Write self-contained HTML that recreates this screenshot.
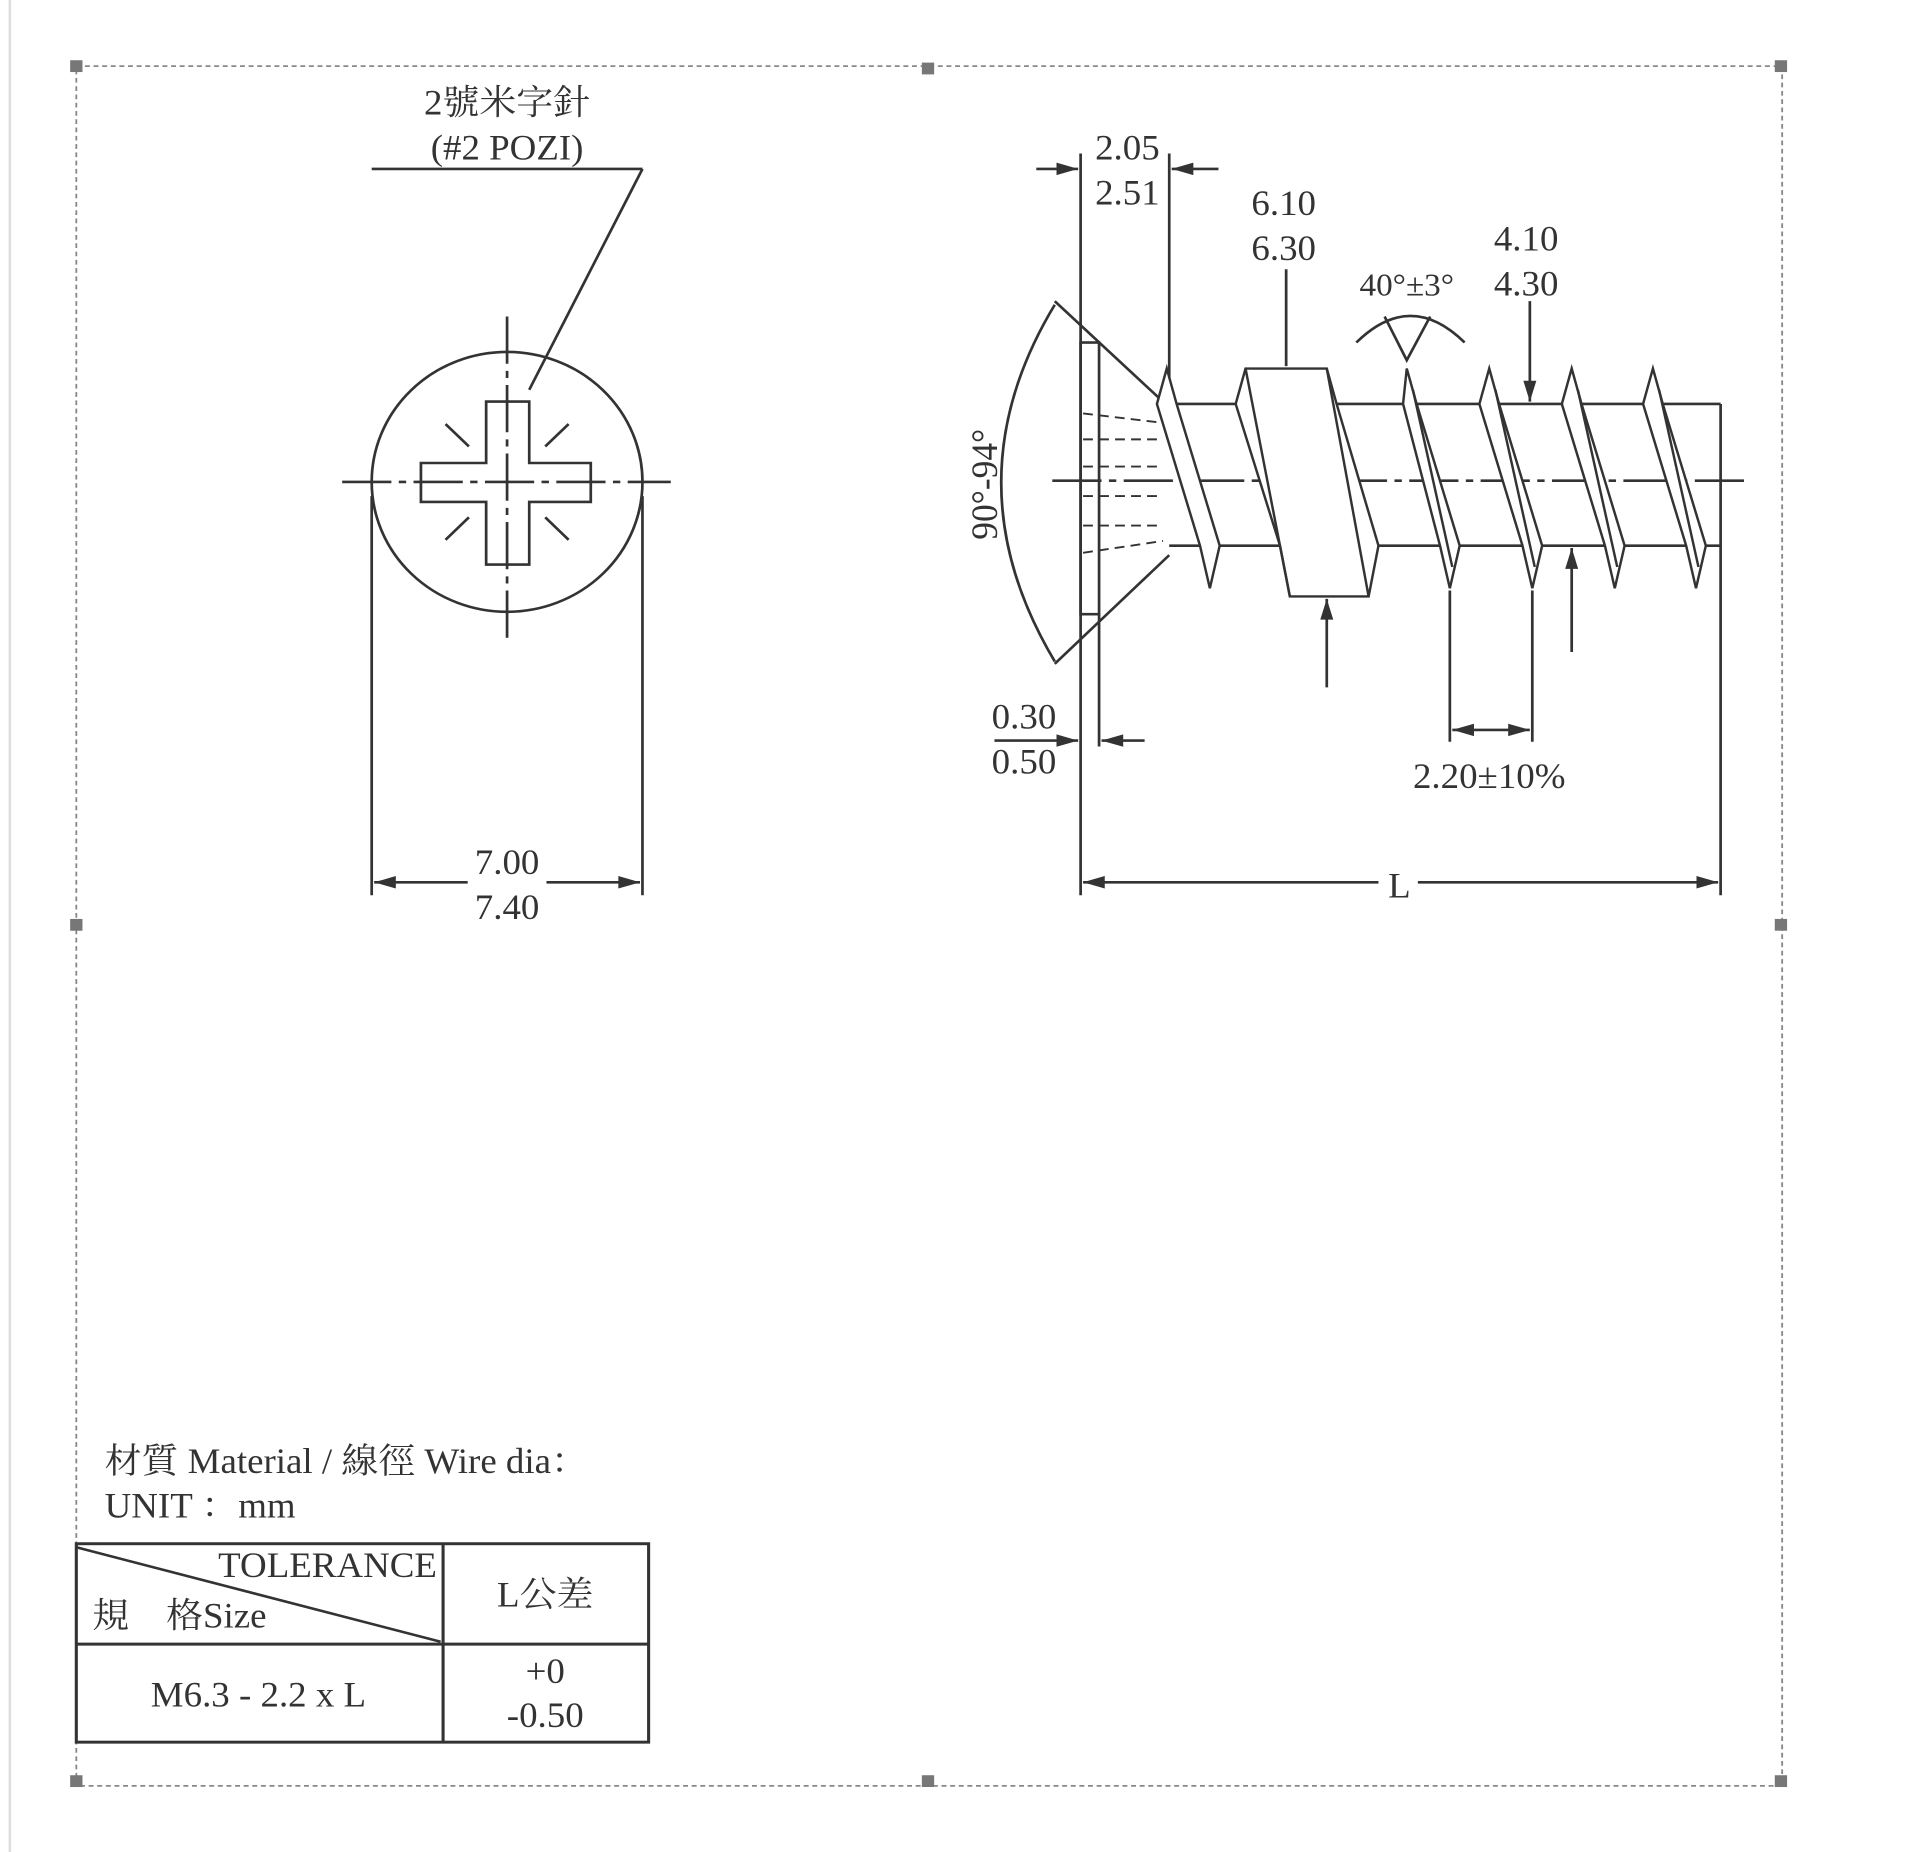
<!DOCTYPE html>
<html><head><meta charset="utf-8"><style>
html,body{margin:0;padding:0;background:#fff;}
svg{display:block}
text{font-family:"Liberation Serif","Noto Serif CJK SC","Noto Sans CJK TC",serif;fill:#333;}
</style></head><body>
<svg width="1920" height="1852" viewBox="0 0 1560 1568" preserveAspectRatio="none" xmlns="http://www.w3.org/2000/svg">
<defs>
<marker id="a" viewBox="0 0 10 10" refX="10" refY="5" markerWidth="10" markerHeight="8" orient="auto-start-reverse"><path d="M0,2 L10,5 L0,8 z" fill="#333"/></marker>
</defs>
<rect width="1560" height="1568" fill="#fff"/>
<line x1="8" y1="0" x2="8" y2="1568" stroke="#ddd" stroke-width="2"/>
<rect x="62" y="56" width="1386" height="1456" fill="none" stroke="#888" stroke-width="1.5" stroke-dasharray="4,3"/>
<g fill="#777">
<rect x="57" y="51" width="10" height="10"/><rect x="749" y="53" width="10" height="10"/><rect x="1442" y="51" width="10" height="10"/>
<rect x="57" y="778" width="10" height="10"/><rect x="1442" y="778" width="10" height="10"/>
<rect x="57" y="1503" width="10" height="10"/><rect x="749" y="1503" width="10" height="10"/><rect x="1442" y="1503" width="10" height="10"/>
</g>
<g stroke="#333" stroke-width="2.2" fill="none">
<line x1="302" y1="143" x2="522" y2="143"/>
<line x1="522" y1="143" x2="430" y2="330"/>
<circle cx="412" cy="408" r="110"/>
<line x1="278" y1="408" x2="545" y2="408" stroke-dasharray="40,6,6,6"/>
<line x1="412" y1="268" x2="412" y2="545" stroke-dasharray="40,6,6,6"/>
<path d="M395,340 H430 V392 H480 V425 H430 V478 H395 V425 H342 V392 H395 Z"/>
<line x1="443" y1="378" x2="462" y2="359"/><line x1="381" y1="378" x2="362" y2="359"/>
<line x1="443" y1="438" x2="462" y2="457"/><line x1="381" y1="438" x2="362" y2="457"/>
<line x1="302" y1="420" x2="302" y2="758"/><line x1="522" y1="420" x2="522" y2="758"/>
<line x1="304" y1="747" x2="380" y2="747" marker-start="url(#a)"/>
<line x1="444" y1="747" x2="520" y2="747" marker-end="url(#a)"/>
<line x1="878" y1="130" x2="878" y2="758"/>
<line x1="950" y1="130" x2="950" y2="340"/>
<line x1="842" y1="143" x2="876" y2="143" marker-end="url(#a)"/>
<line x1="990" y1="143" x2="952" y2="143" marker-end="url(#a)"/>
<rect x="878" y="290" width="15" height="230"/>
<line x1="857" y1="255" x2="950" y2="345"/>
<line x1="857" y1="562" x2="950" y2="470"/>
<path d="M857,258 Q770,408 857,560"/>
<g stroke-dasharray="8,5" stroke-width="1.6">
<line x1="880" y1="350" x2="945" y2="358"/><line x1="880" y1="372" x2="945" y2="372"/><line x1="880" y1="395" x2="945" y2="395"/>
<line x1="880" y1="420" x2="945" y2="420"/><line x1="880" y1="445" x2="945" y2="445"/><line x1="880" y1="468" x2="945" y2="458"/>
</g>
<line x1="950" y1="342" x2="1398" y2="342"/>
<line x1="950" y1="462" x2="1398" y2="462"/>
<line x1="1398" y1="342" x2="1398" y2="758"/>
<line x1="855" y1="407" x2="1420" y2="407" stroke-dasharray="40,6,6,6"/>
<line x1="880" y1="747" x2="1120" y2="747" marker-start="url(#a)"/>
<line x1="1152" y1="747" x2="1396" y2="747" marker-end="url(#a)"/>
</g>
<g stroke="#333" stroke-width="2" fill="#fff">
<polygon points="940,342 948,312 956,342 991,462 983,498 975,462"/>
<polygon points="1140,342 1143,312 1151,342 1186,462 1178,498 1170,462"/>
<polygon points="1202,342 1210,312 1218,342 1253,462 1245,498 1237,462"/>
<polygon points="1269,342 1277,312 1285,342 1320,462 1312,498 1304,462"/>
<polygon points="1335,342 1343,312 1351,342 1386,462 1378,498 1370,462"/>
<polygon points="1004,342 1012,312 1078,312 1086,342 1120,462 1112,505 1048,505 1040,462"/>
<line x1="1012" y1="312" x2="1048" y2="505"/><line x1="1078" y1="312" x2="1112" y2="505"/>
<line x1="1148" y1="330" x2="1180" y2="480"/><line x1="1215" y1="330" x2="1247" y2="480"/>
<line x1="1282" y1="330" x2="1314" y2="480"/><line x1="1348" y1="330" x2="1380" y2="480"/>
</g>
<g stroke="#333" stroke-width="2.2" fill="none">
<line x1="1045" y1="228" x2="1045" y2="310"/>
<path d="M1102,290 Q1146,245 1190,290"/>
<polyline points="1125,268 1143,305 1162,268"/>
<line x1="1243" y1="255" x2="1243" y2="340" marker-end="url(#a)"/>
<line x1="1078" y1="582" x2="1078" y2="507" marker-end="url(#a)"/>
<line x1="1277" y1="552" x2="1277" y2="464" marker-end="url(#a)"/>
<line x1="1178" y1="500" x2="1178" y2="628"/><line x1="1245" y1="500" x2="1245" y2="628"/>
<line x1="1180" y1="618" x2="1243" y2="618" marker-start="url(#a)" marker-end="url(#a)"/>
<line x1="893" y1="520" x2="893" y2="632"/>
<line x1="808" y1="627" x2="876" y2="627" marker-end="url(#a)"/>
<line x1="930" y1="627" x2="895" y2="627" marker-end="url(#a)"/>
<rect x="62" y="1307" width="465" height="168" stroke-width="2.5"/>
<line x1="360" y1="1307" x2="360" y2="1475" stroke-width="2.5"/>
<line x1="62" y1="1392" x2="527" y2="1392" stroke-width="2.5"/>
<line x1="62" y1="1310" x2="358" y2="1390"/>
</g>
<g font-size="30" text-anchor="middle">
<text x="412" y="97">2號米字針</text>
<text x="412" y="135">(#2 POZI)</text>
<text x="412" y="740">7.00</text>
<text x="412" y="778">7.40</text>
<text x="916" y="135">2.05</text>
<text x="916" y="173">2.51</text>
<text x="1043" y="182">6.10</text>
<text x="1043" y="220">6.30</text>
<text x="1143" y="250" font-size="27">40°±3°</text>
<text x="1240" y="212">4.10</text>
<text x="1240" y="250">4.30</text>
<text x="832" y="617">0.30</text>
<text x="832" y="655">0.50</text>
<text x="1210" y="667">2.20±10%</text>
<text x="1137" y="760">L</text>
<text x="0" y="0" transform="translate(810,410) rotate(-90)">90°-94°</text>
<text x="443" y="1360">L公差</text>
<text x="210" y="1445">M6.3 - 2.2 x L</text>
<text x="443" y="1425">+0</text>
<text x="443" y="1462">-0.50</text>
</g>
<g font-size="30">
<text x="85" y="1247">材質 Material / 線徑 Wire dia：</text>
<text x="85" y="1285">UNIT ：mm</text>
<text x="355" y="1335" text-anchor="end">TOLERANCE</text>
<text x="75" y="1378">規　格Size</text>
</g>
</svg>
</body></html>
